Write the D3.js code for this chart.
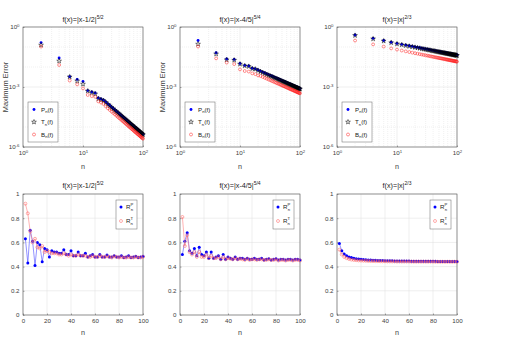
<!DOCTYPE html>
<html><head><meta charset="utf-8">
<script src="https://cdn.jsdelivr.net/npm/d3@7"></script>
<style>body{margin:0;background:#fff;} svg{display:block;font-family:"Liberation Sans",Arial,Helvetica,sans-serif;}</style>
</head><body><svg id="c" width="510" height="354"></svg>
<script>
// ---------- data ----------
const nValues = [2,4,6,8,10,12,14,16,18,20,22,24,26,28,30,32,34,36,38,40,42,44,46,48,50,
  52,54,56,58,60,62,64,66,68,70,72,74,76,78,80,82,84,86,88,90,92,94,96,98,100];

const titleBase = ["f(x)=|x-1/2|", "f(x)=|x-4/5|", "f(x)=|x|"];
const titleExp = ["5/2", "5/4", "2/3"];

// maximum error, panel 1
const errP1 = [1.66e-1,2.8e-2,3.3e-3,2.4e-3,1.9e-3,6.6e-4,5.6e-4,5.0e-4,2.8e-4,2.5e-4,2.2e-4,1.78e-4,1.44e-4,1.19e-4,9.9e-5,8.4e-5,7.2e-5,6.2e-5,5.4e-5,4.7e-5,4.15e-5,3.7e-5,3.27e-5,2.93e-5,2.64e-5,2.38e-5,2.16e-5,1.96e-5,1.79e-5,1.64e-5,1.51e-5,1.39e-5,1.28e-5,1.18e-5,1.10e-5,1.02e-5,9.5e-6,8.85e-6,8.3e-6,7.76e-6,7.28e-6,6.85e-6,6.46e-6,6.08e-6,5.73e-6,5.40e-6,5.11e-6,4.84e-6,4.58e-6,4.35e-6];
const errT1 = [1.26e-1,2.0e-2,3.2e-3,2.0e-3,1.4e-3,6.3e-4,5.2e-4,4.5e-4,2.6e-4,2.3e-4,2.1e-4,1.7e-4,1.37e-4,1.13e-4,9.4e-5,8.0e-5,6.8e-5,5.9e-5,5.1e-5,4.5e-5,3.95e-5,3.5e-5,3.1e-5,2.8e-5,2.5e-5,2.26e-5,2.05e-5,1.86e-5,1.7e-5,1.56e-5,1.43e-5,1.32e-5,1.22e-5,1.12e-5,1.04e-5,9.7e-6,9.0e-6,8.4e-6,7.9e-6,7.4e-6,6.9e-6,6.5e-6,6.1e-6,5.8e-6,5.45e-6,5.13e-6,4.85e-6,4.6e-6,4.35e-6,4.13e-6];
const errB1 = [1.05e-1,1.26e-2,2.1e-3,1.35e-3,8.5e-4,4.0e-4,3.5e-4,3.2e-4,1.9e-4,1.66e-4,1.41e-4,1.07e-4,8.6e-5,7.1e-5,5.9e-5,5.0e-5,4.3e-5,3.7e-5,3.2e-5,2.8e-5,2.5e-5,2.2e-5,1.96e-5,1.76e-5,1.58e-5,1.43e-5,1.3e-5,1.18e-5,1.07e-5,9.8e-6,9.1e-6,8.3e-6,7.7e-6,7.1e-6,6.6e-6,6.1e-6,5.7e-6,5.3e-6,5.0e-6,4.65e-6,4.37e-6,4.1e-6,3.88e-6,3.65e-6,3.44e-6,3.24e-6,3.07e-6,2.9e-6,2.75e-6,2.6e-6];

// maximum error, panel 2
const errP2 = [2.1e-1,5.2e-2,2.5e-2,2.4e-2,1.5e-2,1.2e-2,1.12e-2,8.7e-3,8.1e-3,7.1e-3,6.25e-3,5.57e-3,5.0e-3,4.54e-3,4.15e-3,3.81e-3,3.52e-3,3.26e-3,3.03e-3,2.84e-3,2.66e-3,2.51e-3,2.36e-3,2.23e-3,2.11e-3,2.0e-3,1.91e-3,1.82e-3,1.74e-3,1.66e-3,1.59e-3,1.52e-3,1.46e-3,1.41e-3,1.36e-3,1.31e-3,1.26e-3,1.21e-3,1.17e-3,1.135e-3,1.10e-3,1.066e-3,1.033e-3,1.0e-3,9.7e-4,9.44e-4,9.18e-4,8.93e-4,8.69e-4,8.45e-4];
const errT2 = [1.4e-1,4.5e-2,2.3e-2,2.2e-2,1.4e-2,1.15e-2,1.07e-2,8.3e-3,7.8e-3,6.7e-3,5.85e-3,5.2e-3,4.66e-3,4.23e-3,3.86e-3,3.55e-3,3.28e-3,3.04e-3,2.83e-3,2.65e-3,2.48e-3,2.34e-3,2.2e-3,2.08e-3,1.97e-3,1.87e-3,1.78e-3,1.7e-3,1.62e-3,1.55e-3,1.48e-3,1.42e-3,1.36e-3,1.31e-3,1.27e-3,1.22e-3,1.17e-3,1.13e-3,1.09e-3,1.06e-3,1.02e-3,9.9e-4,9.6e-4,9.3e-4,9.0e-4,8.8e-4,8.55e-4,8.3e-4,8.1e-4,7.9e-4];
const errB2 = [1.05e-1,2.7e-2,1.66e-2,1.4e-2,7.6e-3,6.3e-3,5.9e-3,4.8e-3,4.4e-3,3.8e-3,3.55e-3,3.17e-3,2.85e-3,2.59e-3,2.37e-3,2.17e-3,2.0e-3,1.86e-3,1.73e-3,1.62e-3,1.52e-3,1.43e-3,1.35e-3,1.27e-3,1.2e-3,1.14e-3,1.09e-3,1.04e-3,9.9e-4,9.5e-4,9.1e-4,8.7e-4,8.3e-4,8.0e-4,7.75e-4,7.45e-4,7.2e-4,6.9e-4,6.7e-4,6.47e-4,6.27e-4,6.08e-4,5.9e-4,5.7e-4,5.53e-4,5.38e-4,5.23e-4,5.09e-4,4.95e-4,4.82e-4];

// maximum error, panel 3
const errP3 = [4.0e-1,2.7e-1,2.1e-1,1.74e-1,1.51e-1,1.36e-1,1.245e-1,1.15e-1,1.08e-1,1.01e-1,9.6e-2,9.1e-2,8.7e-2,8.3e-2,8.0e-2,7.7e-2,7.45e-2,7.2e-2,6.98e-2,6.78e-2,6.59e-2,6.41e-2,6.24e-2,6.09e-2,5.95e-2,5.82e-2,5.69e-2,5.57e-2,5.46e-2,5.35e-2,5.26e-2,5.16e-2,5.06e-2,4.98e-2,4.9e-2,4.82e-2,4.74e-2,4.67e-2,4.6e-2,4.53e-2,4.47e-2,4.41e-2,4.35e-2,4.29e-2,4.24e-2,4.18e-2,4.13e-2,4.08e-2,4.03e-2,3.98e-2];
const errT3 = [3.8e-1,2.56e-1,2.0e-1,1.65e-1,1.43e-1,1.29e-1,1.18e-1,1.09e-1,1.03e-1,9.6e-2,9.1e-2,8.65e-2,8.25e-2,7.9e-2,7.6e-2,7.3e-2,7.08e-2,6.84e-2,6.63e-2,6.44e-2,6.26e-2,6.09e-2,5.93e-2,5.79e-2,5.65e-2,5.53e-2,5.4e-2,5.29e-2,5.19e-2,5.08e-2,5.0e-2,4.9e-2,4.81e-2,4.73e-2,4.66e-2,4.58e-2,4.5e-2,4.44e-2,4.37e-2,4.3e-2,4.25e-2,4.19e-2,4.13e-2,4.08e-2,4.03e-2,3.97e-2,3.92e-2,3.88e-2,3.83e-2,3.78e-2];
const errB3 = [2.1e-1,1.35e-1,1.05e-1,8.5e-2,7.4e-2,6.65e-2,6.06e-2,5.6e-2,5.21e-2,4.89e-2,4.62e-2,4.39e-2,4.18e-2,4.0e-2,3.84e-2,3.69e-2,3.56e-2,3.44e-2,3.33e-2,3.23e-2,3.13e-2,3.05e-2,2.96e-2,2.89e-2,2.82e-2,2.75e-2,2.7e-2,2.64e-2,2.58e-2,2.53e-2,2.48e-2,2.43e-2,2.39e-2,2.34e-2,2.31e-2,2.27e-2,2.23e-2,2.19e-2,2.16e-2,2.13e-2,2.1e-2,2.07e-2,2.04e-2,2.01e-2,1.99e-2,1.96e-2,1.93e-2,1.91e-2,1.88e-2,1.86e-2];

// ratios R_n^P and R_n^T
const ratioP1 = [0.63,0.43,0.70,0.61,0.41,0.60,0.58,0.44,0.55,0.54,0.48,0.53,0.52,0.52,0.51,0.51,0.54,0.50,0.50,0.53,0.49,0.49,0.52,0.49,0.49,0.51,0.48,0.49,0.50,0.48,0.48,0.50,0.48,0.48,0.495,0.48,0.48,0.49,0.48,0.48,0.49,0.475,0.48,0.49,0.475,0.48,0.485,0.475,0.48,0.485];
const ratioT1 = [0.92,0.84,0.69,0.60,0.63,0.56,0.55,0.57,0.52,0.53,0.52,0.51,0.51,0.51,0.50,0.50,0.51,0.50,0.49,0.50,0.49,0.49,0.50,0.49,0.49,0.49,0.48,0.48,0.49,0.48,0.48,0.49,0.48,0.48,0.485,0.48,0.475,0.485,0.48,0.475,0.48,0.475,0.475,0.48,0.475,0.475,0.48,0.475,0.475,0.48];
const ratioP2 = [0.50,0.61,0.68,0.53,0.51,0.55,0.49,0.56,0.50,0.49,0.52,0.47,0.52,0.47,0.48,0.49,0.46,0.50,0.46,0.48,0.47,0.46,0.48,0.46,0.47,0.47,0.46,0.47,0.46,0.46,0.47,0.46,0.46,0.47,0.455,0.46,0.465,0.455,0.46,0.465,0.455,0.46,0.46,0.455,0.46,0.46,0.455,0.46,0.46,0.455];
const ratioT2 = [0.81,0.57,0.66,0.52,0.50,0.52,0.48,0.52,0.48,0.48,0.50,0.47,0.49,0.47,0.47,0.48,0.46,0.48,0.46,0.47,0.465,0.46,0.47,0.46,0.465,0.46,0.455,0.465,0.455,0.46,0.46,0.455,0.46,0.46,0.455,0.455,0.46,0.455,0.455,0.46,0.45,0.455,0.455,0.45,0.455,0.455,0.45,0.455,0.455,0.45];
const ratioP3 = [0.59,0.53,0.505,0.49,0.48,0.475,0.47,0.465,0.462,0.46,0.458,0.456,0.455,0.454,0.453,0.452,0.451,0.45,0.45,0.449,0.449,0.448,0.448,0.447,0.447,0.447,0.446,0.446,0.446,0.446,0.445,0.445,0.445,0.445,0.445,0.444,0.444,0.444,0.444,0.444,0.444,0.443,0.443,0.443,0.443,0.443,0.443,0.443,0.443,0.443];
const ratioT3 = [0.54,0.50,0.48,0.47,0.463,0.458,0.455,0.453,0.451,0.45,0.449,0.448,0.447,0.446,0.446,0.445,0.445,0.444,0.444,0.444,0.443,0.443,0.443,0.443,0.442,0.442,0.442,0.442,0.442,0.442,0.441,0.441,0.441,0.441,0.441,0.441,0.441,0.441,0.441,0.441,0.44,0.44,0.44,0.44,0.44,0.44,0.44,0.44,0.44,0.44];

// ticks
const xLogTicks = [1, 10, 100];
const xLogTickExp = ["0", "1", "2"];
const yLogTicks = [1e-6, 1e-3, 1];
const yLogTickExp = ["-6", "-3", "0"];
const yLogMinorGrid = [1e-5, 1e-4, 1e-2, 1e-1];
const xLinTicks = [0, 20, 40, 60, 80, 100];
const yLinTicks = [0, 0.2, 0.4, 0.6, 0.8, 1];
const yLinTickLabels = ["0", "0.2", "0.4", "0.6", "0.8", "1"];

// ---------- drawing ----------
const svg = d3.select("#c");
const lefts = [23, 180, 337];
const W = 120;
const topRow = {y0: 27, y1: 147};
const botRow = {y0: 194, y1: 315};
const axisColor = "#555";
const gridColor = "#e3e3e3";
const textColor = "#404040";
const fs = 6.2;

const errSets = [[errP1, errT1, errB1], [errP2, errT2, errB2], [errP3, errT3, errB3]];
const ratioSets = [[ratioP1, ratioT1], [ratioP2, ratioT2], [ratioP3, ratioT3]];

function title(g, cx, yb, i) {
  const t = g.append("text").attr("x", cx).attr("y", yb).attr("text-anchor", "middle")
    .attr("font-size", 7.2).attr("fill", "#222");
  t.append("tspan").text(titleBase[i]);
  t.append("tspan").attr("dy", -3).attr("font-size", 5).text(titleExp[i]);
}

function styleAxis(sel) {
  sel.select(".domain").remove();
  sel.selectAll("line").attr("stroke", axisColor).attr("stroke-width", 0.5);
  sel.selectAll("text").attr("fill", textColor).attr("font-size", fs).attr("font-family", "Liberation Sans, Arial, sans-serif");
}

const starSym = d3.symbol().type(d3.symbolStar).size(7);

// top row
for (let i = 0; i < 3; i++) {
  const L = lefts[i];
  const x = d3.scaleLog().domain([1, 100]).range([L, L + W]);
  const y = d3.scaleLog().domain([1e-6, 1]).range([topRow.y1, topRow.y0]);
  const g = svg.append("g");
  const gx = x.ticks();
  g.append("g").selectAll("line").data(gx).join("line")
    .attr("x1", d => x(d)).attr("x2", d => x(d)).attr("y1", topRow.y0).attr("y2", topRow.y1)
    .attr("stroke", d => xLogTicks.includes(d) ? "#dcdcdc" : gridColor).attr("stroke-width", 0.5)
    .attr("stroke-dasharray", d => xLogTicks.includes(d) ? null : "1,1");
  g.append("g").selectAll("line").data(yLogMinorGrid.concat(yLogTicks)).join("line")
    .attr("x1", L).attr("x2", L + W).attr("y1", d => y(d)).attr("y2", d => y(d))
    .attr("stroke", d => yLogTicks.includes(d) ? "#dcdcdc" : gridColor).attr("stroke-width", 0.5)
    .attr("stroke-dasharray", d => yLogTicks.includes(d) ? null : "1,1");
  const ax = g.append("g").attr("transform", `translate(0,${topRow.y1})`)
    .call(d3.axisBottom(x).tickValues(xLogTicks).tickSizeInner(-1.5).tickSizeOuter(0).tickPadding(4).tickFormat(() => "10"));
  styleAxis(ax);
  ax.selectAll(".tick text").append("tspan").attr("dy", -2.6).attr("font-size", 4.3).text((d, k) => xLogTickExp[k]);
  const ay = g.append("g").attr("transform", `translate(${L},0)`)
    .call(d3.axisLeft(y).tickValues(yLogTicks).tickSizeInner(-1.5).tickSizeOuter(0).tickPadding(3.5).tickFormat(() => "10"));
  styleAxis(ay);
  ay.selectAll(".tick text").append("tspan").attr("dy", -2.6).attr("font-size", 4.3).text((d, k) => yLogTickExp[k]);
  g.append("rect").attr("x", L).attr("y", topRow.y0).attr("width", W).attr("height", topRow.y1 - topRow.y0)
    .attr("fill", "none").attr("stroke", axisColor).attr("stroke-width", 0.6);
  title(g, L + W / 2, 22, i);
  g.append("text").attr("x", L + W / 2).attr("y", 169).attr("text-anchor", "middle")
    .attr("font-size", 7.2).attr("fill", textColor).text("n");
  if (i < 2) {
    g.append("text").attr("transform", `translate(${L - 15.5},${(topRow.y0 + topRow.y1) / 2}) rotate(-90)`)
      .attr("text-anchor", "middle").attr("font-size", 7.4).attr("fill", textColor).text("Maximum Error");
  }
  const [P, T, B] = errSets[i];
  const pts = g.append("g");
  pts.append("g").selectAll("circle").data(nValues).join("circle")
    .attr("cx", d => x(d)).attr("cy", (d, k) => y(P[k])).attr("r", 1.45).attr("fill", "#0000ff");
  pts.append("g").selectAll("path").data(nValues).join("path")
    .attr("transform", (d, k) => `translate(${x(d)},${y(T[k])})`).attr("d", starSym)
    .attr("fill", "none").attr("stroke", "#000").attr("stroke-width", 0.5);
  pts.append("g").selectAll("circle").data(nValues).join("circle")
    .attr("cx", d => x(d)).attr("cy", (d, k) => y(B[k])).attr("r", 1.45)
    .attr("fill", "none").attr("stroke", "#ff2020").attr("stroke-width", 0.5);
  const lx = L + 5, ly = 102, lw = 30, lh = 40;
  const lg = g.append("g");
  lg.append("rect").attr("x", lx).attr("y", ly).attr("width", lw).attr("height", lh)
    .attr("fill", "#fff").attr("stroke", "#666").attr("stroke-width", 0.5);
  const entries = [["P", "#0000ff"], ["T", "#000"], ["B", "#ff2020"]];
  entries.forEach((e, k) => {
    const ey = ly + 7.5 + k * 12.5;
    if (k === 0) lg.append("circle").attr("cx", lx + 6).attr("cy", ey).attr("r", 1.45).attr("fill", "#0000ff");
    if (k === 1) lg.append("path").attr("transform", `translate(${lx + 6},${ey})`).attr("d", starSym)
      .attr("fill", "none").attr("stroke", "#000").attr("stroke-width", 0.5);
    if (k === 2) lg.append("circle").attr("cx", lx + 6).attr("cy", ey).attr("r", 1.5)
      .attr("fill", "none").attr("stroke", "#ff2020").attr("stroke-width", 0.5);
    const t = lg.append("text").attr("x", lx + 13).attr("y", ey + 2.2).attr("font-size", fs).attr("fill", "#222");
    t.append("tspan").text(e[0]);
    t.append("tspan").attr("dy", 1.6).attr("font-size", 4.2).text("n");
    t.append("tspan").attr("dy", -1.6).text("(f)");
  });
}

// bottom row
for (let i = 0; i < 3; i++) {
  const L = lefts[i];
  const x = d3.scaleLinear().domain([0, 100]).range([L, L + W]);
  const y = d3.scaleLinear().domain([0, 1]).range([botRow.y1, botRow.y0]);
  const g = svg.append("g");
  g.append("g").selectAll("line").data(xLinTicks).join("line")
    .attr("x1", d => x(d)).attr("x2", d => x(d)).attr("y1", botRow.y0).attr("y2", botRow.y1)
    .attr("stroke", "#dcdcdc").attr("stroke-width", 0.5);
  g.append("g").selectAll("line").data(yLinTicks).join("line")
    .attr("x1", L).attr("x2", L + W).attr("y1", d => y(d)).attr("y2", d => y(d))
    .attr("stroke", "#dcdcdc").attr("stroke-width", 0.5);
  const ax = g.append("g").attr("transform", `translate(0,${botRow.y1})`)
    .call(d3.axisBottom(x).tickValues(xLinTicks).tickSizeInner(-1.5).tickSizeOuter(0).tickPadding(4).tickFormat(d3.format("d")));
  styleAxis(ax);
  const ay = g.append("g").attr("transform", `translate(${L},0)`)
    .call(d3.axisLeft(y).tickValues(yLinTicks).tickSizeInner(-1.5).tickSizeOuter(0).tickPadding(3.5).tickFormat((d, k) => yLinTickLabels[k]));
  styleAxis(ay);
  g.append("rect").attr("x", L).attr("y", botRow.y0).attr("width", W).attr("height", botRow.y1 - botRow.y0)
    .attr("fill", "none").attr("stroke", axisColor).attr("stroke-width", 0.6);
  title(g, L + W / 2, 188, i);
  g.append("text").attr("x", L + W / 2).attr("y", 335).attr("text-anchor", "middle")
    .attr("font-size", 7.2).attr("fill", textColor).text("n");
  const [RP, RT] = ratioSets[i];
  const lineP = d3.line().x(d => x(d)).y((d, k) => y(RP[k]));
  const lineT = d3.line().x(d => x(d)).y((d, k) => y(RT[k]));
  g.append("path").datum(nValues).attr("d", lineP).attr("fill", "none").attr("stroke", "#4a4aff").attr("stroke-width", 0.6);
  g.append("g").selectAll("circle").data(nValues).join("circle")
    .attr("cx", d => x(d)).attr("cy", (d, k) => y(RP[k])).attr("r", 1.5).attr("fill", "#0000ff");
  g.append("path").datum(nValues).attr("d", lineT).attr("fill", "none").attr("stroke", "#ff8080").attr("stroke-width", 0.6);
  g.append("g").selectAll("circle").data(nValues).join("circle")
    .attr("cx", d => x(d)).attr("cy", (d, k) => y(RT[k])).attr("r", 1.5)
    .attr("fill", "none").attr("stroke", "#ff5a5a").attr("stroke-width", 0.5);
  const lx = L + W - 27, ly = 200, lw = 21, lh = 29;
  const lg = g.append("g");
  lg.append("rect").attr("x", lx).attr("y", ly).attr("width", lw).attr("height", lh)
    .attr("fill", "#fff").attr("stroke", "#666").attr("stroke-width", 0.5);
  [["P", 0], ["T", 1]].forEach(([s, k]) => {
    const ey = ly + 7 + k * 14;
    if (k === 0) lg.append("circle").attr("cx", lx + 5).attr("cy", ey).attr("r", 1.5).attr("fill", "#0000ff");
    else lg.append("circle").attr("cx", lx + 5).attr("cy", ey).attr("r", 1.5)
      .attr("fill", "none").attr("stroke", "#ff5a5a").attr("stroke-width", 0.5);
    const t = lg.append("text").attr("x", lx + 10).attr("y", ey + 2.2).attr("font-size", fs).attr("fill", "#222");
    t.append("tspan").text("R");
    t.append("tspan").attr("dy", -3).attr("font-size", 4.2).text(s);
    t.append("tspan").attr("dx", -2.6).attr("dy", 5.2).attr("font-size", 4.2).text("n");
  });
}
</script>
</body></html>
